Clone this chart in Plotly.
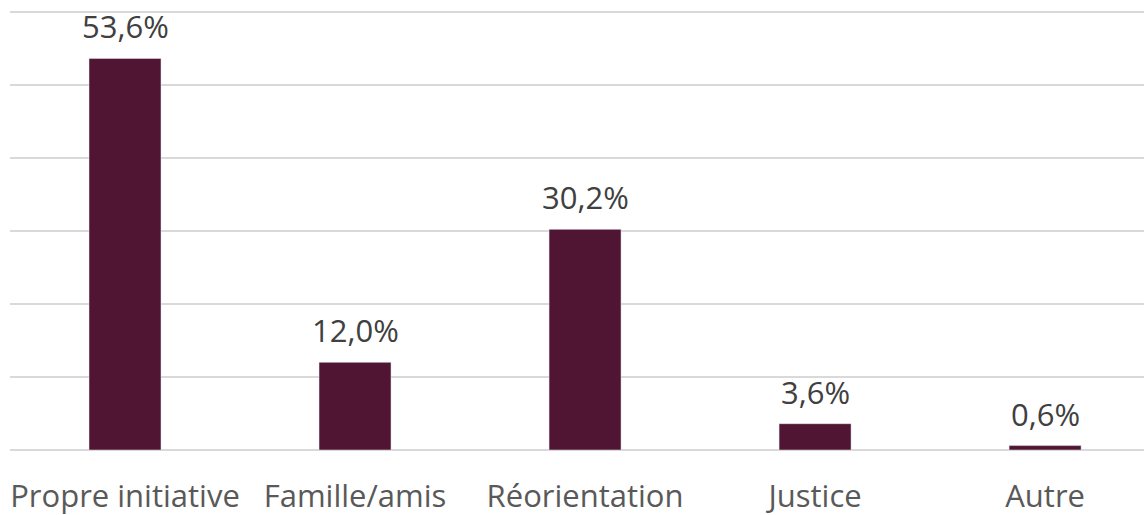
import plotly.graph_objects as go

categories = ["Propre initiative", "Famille/amis", "Réorientation", "Justice", "Autre"]
values = [53.6, 12.0, 30.2, 3.6, 0.6]
labels = ["53,6%", "12,0%", "30,2%", "3,6%", "0,6%"]

bar_color = "#4f1532"
font_family = "Open Sans, Noto Sans, sans-serif"

fig = go.Figure()
fig.add_trace(go.Bar(x=categories, y=values, marker_color=bar_color, width=0.313,
                     hoverinfo="x+y"))

# value labels above the bars
for c, v, t in zip(categories, values, labels):
  fig.add_annotation(x=c, y=v, text=t, showarrow=False, yanchor="bottom", yshift=9,
                     font=dict(size=31, color="#404040", family=font_family))

fig.update_layout(width=1144, height=515,
                  margin=dict(l=10, r=0, t=8, b=65),
                  plot_bgcolor="white", paper_bgcolor="white",
                  showlegend=False,
                  font=dict(family=font_family, color="#595959", size=31))
fig.update_xaxes(range=[-0.5, 4.43], showgrid=False, showline=False, zeroline=False,
                 tickfont=dict(size=31, color="#595959"), ticks="", ticklabelstandoff=25,
                 automargin=False)
fig.update_yaxes(range=[0, 60.5], dtick=10, showgrid=True, gridcolor="#d9d9d9", gridwidth=1.5,
                 zeroline=True, zerolinecolor="#d9d9d9", zerolinewidth=1.5,
                 showticklabels=False, automargin=False)

fig.write_html("out.html", config={"displayModeBar": False},
               post_script="document.body.style.margin='0';")
